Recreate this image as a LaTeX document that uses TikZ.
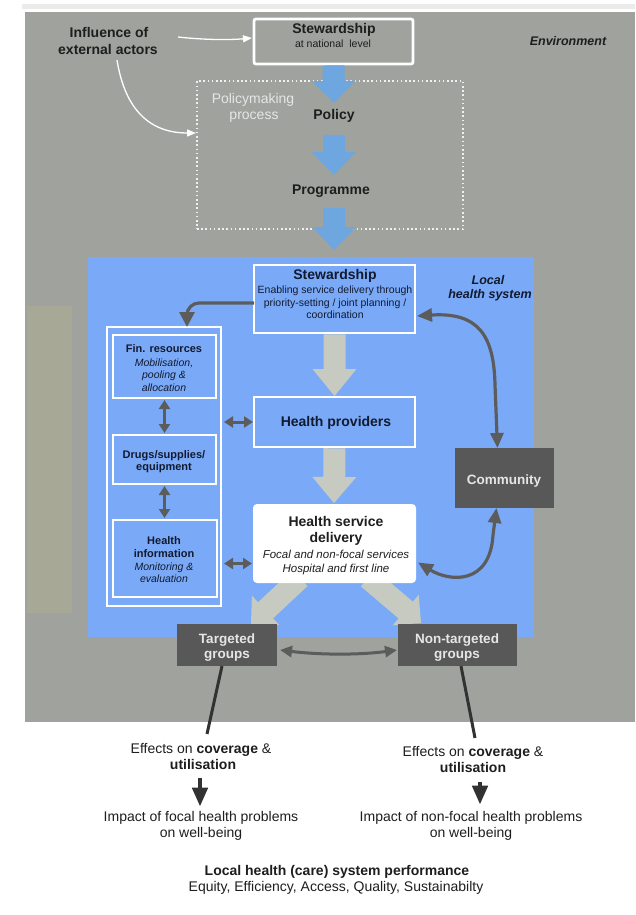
\documentclass[tikz,border=0pt]{standalone}
\usepackage{fontspec}
\setmainfont{Liberation Sans}
\usetikzlibrary{arrows.meta,calc}
\definecolor{envgray}{RGB}{160,162,157}
\definecolor{tanstrip}{RGB}{168,168,150}
\definecolor{lhsblue}{RGB}{122,170,247}
\definecolor{arrblue}{RGB}{110,166,224}
\definecolor{arrgray}{RGB}{198,202,192}
\definecolor{dgray}{RGB}{92,92,92}
\definecolor{boxdark}{RGB}{88,88,88}
\definecolor{navy}{RGB}{18,26,48}
\definecolor{txtdark}{RGB}{30,30,30}
\definecolor{lighttxt}{RGB}{230,230,230}
\definecolor{lineblack}{RGB}{50,50,50}
\newcommand\fsz[1]{\fontsize{#1}{#1}\selectfont}
\newcommand\blockarrow[6]{%
  \path ($(#2)!#5!(#1)$) coordinate (bah);
  \fill[#6] ($(#1)!#3!90:(#2)$) -- ($(bah)!#3!-90:(#1)$) -- ($(bah)!#4!-90:(#1)$) -- (#2)
    -- ($(bah)!#4!90:(#1)$) -- ($(bah)!#3!90:(#1)$) -- ($(#1)!#3!-90:(#2)$) -- cycle;}
\begin{document}
\begin{tikzpicture}[x=1pt,y=-1pt,
  tx/.style={inner sep=0pt, anchor=base},
  wbox/.style={draw=white, inner sep=0pt, outer sep=0pt, anchor=north west},
  darkbox/.style={fill=boxdark, inner sep=0pt, outer sep=0pt, anchor=north west},
  darr/.style={draw=dgray, line width=3.2pt, -{Triangle[length=15pt,width=15pt]}},
  ddarr/.style={draw=dgray, line width=3.2pt, {Triangle[length=15pt,width=13pt]}-{Triangle[length=15pt,width=13pt]}},
  sdarr/.style={draw=dgray, line width=3pt, {Triangle[length=9pt,width=11pt]}-{Triangle[length=9pt,width=11pt]}},
  warr/.style={draw=white, line width=1.3pt, -{Triangle[length=9pt,width=7pt]}},
  gline/.style={draw=lineblack, line width=3pt},
  barr/.style={draw=lineblack, line width=4.5pt, -{Triangle[length=19pt,width=15pt]}},
  hb/.style={tx, font=\fsz{14}\bfseries},
  nv/.style={text=navy}
]
\useasboundingbox (0,0) rectangle (635,915);
\fill[white] (0,0) rectangle (635,915);
\fill[black!8] (22,4) rectangle (635,9);
\fill[envgray] (25,12) rectangle (635,722);
\fill[tanstrip] (27,306) rectangle (72,613);
\fill[lhsblue] (88,257) rectangle (534,637);

% ---------- national level ----------
\node[draw=white!88!gray, line width=1.6pt, dash pattern=on 1.6pt off 2.6pt, inner sep=0pt, outer sep=0pt,
      minimum width=266pt, minimum height=148pt, anchor=north west] (policybox) at (197,81) {};
\node[wbox, line width=2.8pt, rounded corners=2pt, minimum width=159pt, minimum height=45pt] (stew1) at (254,19) {};

\node[hb, text=txtdark] (infl1) at (109,38) {Influence of};
\node[hb, text=txtdark] (infl2) at (108,55) {external actors};
\node[hb, text=txtdark] (stew1t) at (334,34) {Stewardship};
\node[tx, font=\fsz{10.5}, text=txtdark] (stew1s) at (333,48) {at national\ \ level};
\node[tx, font=\fsz{12.5}\bfseries\itshape, text=txtdark] (env) at (568,46) {Environment};
\node[tx, font=\fsz{14}, text=lighttxt] (pm1) at (253,104) {Policymaking};
\node[tx, font=\fsz{14}, text=lighttxt] (pm2) at (254,120) {process};
\node[hb, text=txtdark] (policy) at (334,120) {Policy};
\node[hb, text=txtdark] (programme) at (331,194) {Programme};

\coordinate (b1s) at ($(stew1.south)+(0,1.4)$);
\coordinate (b1e) at (334,103);
\coordinate (b2s) at (334,135);
\coordinate (b2e) at (334,175);
\coordinate (b3s) at (334,208);
\coordinate (b3e) at (334,250);
\blockarrow{b1s}{b1e}{11pt}{22pt}{22pt}{arrblue}
\blockarrow{b2s}{b2e}{11pt}{22pt}{23pt}{arrblue}
\blockarrow{b3s}{b3e}{11pt}{22pt}{23pt}{arrblue}

\coordinate (w1s) at (178,37);
\draw[warr] (w1s) .. controls (205,40) and (230,40) .. ($(stew1.west)+(-2,-3.5)$);
\coordinate (w2s) at (117,60);
\draw[warr] (w2s) .. controls (125,110) and (150,133) .. ($(policybox.west)+(-1,-22)$);

% ---------- local health system ----------
\node[wbox, line width=2.6pt, minimum width=161pt, minimum height=68pt] (stew2) at (254,265) {};
\node[wbox, line width=2.6pt, minimum width=161pt, minimum height=50pt] (hp) at (254,397) {};
\node[wbox, line width=2pt, minimum width=114pt, minimum height=279pt] (cont) at (107,327) {};
\node[wbox, line width=2pt, minimum width=103pt, minimum height=63pt] (fin) at (113,335) {};
\node[wbox, line width=2pt, minimum width=103pt, minimum height=49pt] (drugs) at (113,435) {};
\node[wbox, line width=2pt, minimum width=104pt, minimum height=77pt] (hinfo) at (113,520) {};

% big grey arrows
\coordinate (g1s) at ($(stew2.south)+(0,1.3)$);
\coordinate (g1e) at ($(hp.north)+(0,-1)$);
\blockarrow{g1s}{g1e}{11pt}{22pt}{27pt}{arrgray}
\coordinate (g2s) at ($(hp.south)+(0,1.3)$);
\coordinate (g2e) at (334,503);
\blockarrow{g2s}{g2e}{11pt}{22pt}{26pt}{arrgray}
\coordinate (g3s) at (300,578);
\coordinate (g3e) at (251,624);
\blockarrow{g3s}{g3e}{11pt}{20pt}{20pt}{arrgray}
\coordinate (g4s) at (368,578);
\coordinate (g4e) at (421,623);
\blockarrow{g4s}{g4e}{11pt}{20pt}{20pt}{arrgray}

\node[fill=white, rounded corners=4pt, inner sep=0pt, outer sep=0pt, anchor=north west,
      minimum width=163pt, minimum height=79pt] (hsd) at (253,504) {};
\node[darkbox, minimum width=99pt, minimum height=60pt] (comm) at (455,448) {};
\node[darkbox, minimum width=100pt, minimum height=42pt] (targ) at (177,624) {};
\node[darkbox, minimum width=119pt, minimum height=42pt] (nontarg) at (398,624) {};

% texts in local system
\node[hb, nv] (stew2t) at (335,279) {Stewardship};
\node[tx, nv, font=\fsz{10.5}] (stew2a) at (335,293) {Enabling service delivery through};
\node[tx, nv, font=\fsz{10.5}] (stew2b) at (335,306) {priority-setting / joint planning /};
\node[tx, nv, font=\fsz{10.5}] (stew2c) at (335,318) {coordination};
\node[tx, nv, font=\fsz{12.5}\bfseries\itshape] (loc1) at (488,284) {Local};
\node[tx, nv, font=\fsz{12.5}\bfseries\itshape] (loc2) at (490,298) {health system};
\node[tx, nv, font=\fsz{11}\bfseries] (fin1) at (164,352) {Fin. resources};
\node[tx, nv, font=\fsz{10.5}\itshape] (fin2) at (164,366) {Mobilisation,};
\node[tx, nv, font=\fsz{10.5}\itshape] (fin3) at (164,378) {pooling \&};
\node[tx, nv, font=\fsz{10.5}\itshape] (fin4) at (164,391) {allocation};
\node[tx, nv, font=\fsz{11}\bfseries] (dr1) at (164,458) {Drugs/supplies/};
\node[tx, nv, font=\fsz{11}\bfseries] (dr2) at (164,470) {equipment};
\node[tx, nv, font=\fsz{11}\bfseries] (hi1) at (164,544) {Health};
\node[tx, nv, font=\fsz{11}\bfseries] (hi2) at (164,557) {information};
\node[tx, nv, font=\fsz{10.5}\itshape] (hi3) at (164,570) {Monitoring \&};
\node[tx, nv, font=\fsz{10.5}\itshape] (hi4) at (164,582) {evaluation};
\node[hb, nv] (hpt) at (336,426) {Health providers};
\node[hb, text=txtdark] (hsd1) at (336,526) {Health service};
\node[hb, text=txtdark] (hsd2) at (336,542) {delivery};
\node[tx, text=txtdark, font=\fsz{11.5}\itshape] (hsd3) at (336,558) {Focal and non-focal services};
\node[tx, text=txtdark, font=\fsz{11.5}\itshape] (hsd4) at (336,572) {Hospital and first line};
\node[tx, text=lighttxt, font=\fsz{13.5}\bfseries] (commt) at (504,484) {Community};
\node[tx, text=lighttxt, font=\fsz{13.5}\bfseries] (targ1) at (227,643) {Targeted};
\node[tx, text=lighttxt, font=\fsz{13.5}\bfseries] (targ2) at (227,658) {groups};
\node[tx, text=lighttxt, font=\fsz{13.5}\bfseries] (ntarg1) at (457,643) {Non-targeted};
\node[tx, text=lighttxt, font=\fsz{13.5}\bfseries] (ntarg2) at (457,658) {groups};

% dark connectors
\draw[darr, rounded corners=12pt] ($(stew2.west)+(0,4)$) -| ($(cont.north)+(23,0)$);
\draw[sdarr, shorten <=3pt, shorten >=1pt] (cont.east |- hp.west) -- (hp.west);
\draw[sdarr, shorten <=3pt, shorten >=1pt] ($(cont.east |- hsd.west)+(0,20)$) -- ($(hsd.west)+(0,20)$);
\draw[sdarr, shorten <=2pt, shorten >=2pt] (fin.south) -- (drugs.north);
\draw[sdarr, shorten <=2pt, shorten >=2pt] (drugs.south) -- (drugs.south |- hinfo.north);
\draw[ddarr] ($(stew2.east)+(2,17)$) .. controls (478,312) and (494,335) .. (495,385) -- ($(comm.north)+(-7,0)$);
\draw[ddarr] ($(hsd.east)+(2,19)$) .. controls (450,582) and (490,585) .. (493,535) -- ($(comm.south)+(-8,0)$);
\draw[draw=dgray, line width=3pt, {Triangle[length=12pt,width=11pt]}-{Triangle[length=12pt,width=11pt]}]
  ($(targ.east)+(3,5)$) .. controls (320,655) and (360,655) .. ($(nontarg.west)+(-1,5)$);

% ---------- outcomes ----------
\coordinate (l1) at (207,734);
\coordinate (l2) at (475,738);
\draw[gline] ($(targ.south)+(-5,0)$) -- (l1);
\draw[gline] ($(nontarg.south)+(3.5,0)$) -- (l2);

\node[tx, text=txtdark, font=\fsz{14}] (eff1a) at (201,753) {Effects on \textbf{coverage} \&};
\node[tx, text=txtdark, font=\fsz{14}\bfseries] (eff1b) at (203,769) {utilisation};
\node[tx, text=txtdark, font=\fsz{14}] (eff2a) at (473,756) {Effects on \textbf{coverage} \&};
\node[tx, text=txtdark, font=\fsz{14}\bfseries] (eff2b) at (473,772) {utilisation};
\node[tx, text=txtdark, font=\fsz{14}] (imp1a) at (201,821) {Impact of focal health problems};
\node[tx, text=txtdark, font=\fsz{14}] (imp1b) at (201,837) {on well-being};
\node[tx, text=txtdark, font=\fsz{14}] (imp2a) at (471,821) {Impact of non-focal health problems};
\node[tx, text=txtdark, font=\fsz{14}] (imp2b) at (471,837) {on well-being};
\node[tx, text=txtdark, font=\fsz{14}\bfseries] (perf1) at (337,875) {Local health (care) system performance};
\node[tx, text=txtdark, font=\fsz{14}] (perf2) at (336,891) {Equity, Efficiency, Access, Quality, Sustainabilty};

\draw[barr] ($(eff1b.south)+(-3,9)$) -- ($(imp1a.north)+(-1,-4)$);
\draw[barr] ($(eff2b.south)+(7,10)$) -- ($(imp2a.north)+(9,-6)$);
\end{tikzpicture}
\end{document}
